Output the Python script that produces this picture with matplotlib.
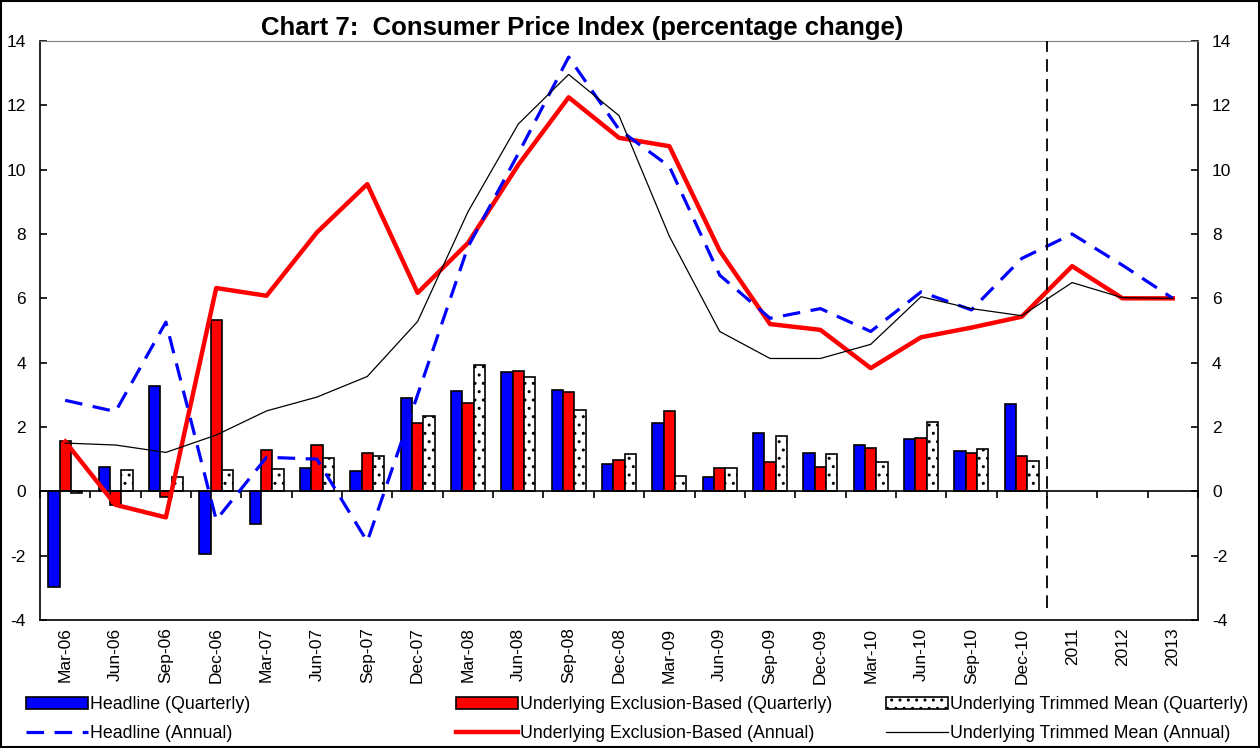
import numpy as np
import matplotlib
matplotlib.use("Agg")
import matplotlib.pyplot as plt
import matplotlib.transforms as transforms
from matplotlib.patches import Rectangle

plt.rcParams['font.family'] = ['Liberation Sans', 'DejaVu Sans']
plt.rcParams['axes.unicode_minus'] = False
plt.rcParams['hatch.linewidth'] = 1.0

categories = ['Mar-06', 'Jun-06', 'Sep-06', 'Dec-06', 'Mar-07', 'Jun-07', 'Sep-07', 'Dec-07',
              'Mar-08', 'Jun-08', 'Sep-08', 'Dec-08', 'Mar-09', 'Jun-09', 'Sep-09', 'Dec-09',
              'Mar-10', 'Jun-10', 'Sep-10', 'Dec-10', '2011', '2012', '2013']

# quarterly bars (only up to Dec-10)
headline_q = [-2.97, 0.77, 3.29, -1.94, -1.01, 0.71, 0.62, 2.90, 3.11, 3.70,
              3.16, 0.86, 2.11, 0.45, 1.82, 1.18, 1.43, 1.63, 1.26, 2.73]
exclusion_q = [1.55, -0.42, -0.18, 5.34, 1.27, 1.43, 1.19, 2.11, 2.76, 3.74,
               3.10, 0.96, 2.50, 0.72, 0.92, 0.77, 1.36, 1.66, 1.20, 1.10]
trimmed_q = [-0.05, 0.65, 0.46, 0.65, 0.69, 1.05, 1.10, 2.33, 3.94, 3.56,
             2.54, 1.15, 0.47, 0.73, 1.71, 1.15, 0.91, 2.17, 1.32, 0.94]

# annual lines
headline_a = [2.83, 2.48, 5.26, -0.89, 1.06, 1.00, -1.56, 3.0, 7.6, 10.5, 13.5, 11.25,
              10.1, 6.72, 5.38, 5.68, 4.97, 6.2, 5.64, 7.24, 8.0, 7.03, 6.0]
exclusion_a = [1.55, -0.42, -0.81, 6.32, 6.08, 8.05, 9.55, 6.17, 7.72, 10.15, 12.25, 10.99,
               10.73, 7.48, 5.2, 5.02, 3.83, 4.79, 5.09, 5.43, 7.0, 6.0, 6.0]
trimmed_a = [1.5, 1.44, 1.21, 1.75, 2.5, 2.93, 3.57, 5.28, 8.69, 11.42, 12.96, 11.68,
             7.93, 4.97, 4.13, 4.13, 4.57, 6.05, 5.68, 5.46, 6.49, 6.02, 6.0]

yticks = list(range(-4, 15, 2))

fig = plt.figure(figsize=(12.6, 7.48), dpi=100)
ax = fig.add_axes([40 / 1260, 1 - 620 / 748, 1158 / 1260, 579 / 748])

x = np.arange(len(categories))
xq = np.arange(len(headline_q))
w = 0.225

b1 = ax.bar(xq - w, headline_q, w, color='#0000FF', edgecolor='black', linewidth=1.2, zorder=2)
b2 = ax.bar(xq, exclusion_q, w, color='#FF0000', edgecolor='black', linewidth=1.2, zorder=2)
b3 = ax.bar(xq + w, trimmed_q, w, color='white', edgecolor='black', linewidth=1.2,
            hatch='..', zorder=2)

l2, = ax.plot(x, exclusion_a, color='#FF0000', linewidth=3.2, zorder=3)
l1, = ax.plot(x, headline_a, color='#0000FF', linewidth=2.3, dashes=(5.5, 3.3), zorder=4)
l3, = ax.plot(x, trimmed_a, color='black', linewidth=0.9, zorder=5)

# forecast divider
ax.axvline(19.5, ymin=0.02, ymax=1, color='black', linewidth=1.3, dashes=(7, 4), zorder=6)

ax.set_xlim(-0.5, len(categories) - 0.5)
ax.set_ylim(-4, 14)
ax.set_yticks(yticks)
ax.tick_params(axis='y', which='both', left=True, right=True, labelleft=True, labelright=True,
               direction='in', length=5, width=1.2, labelsize=12.5, pad=10)

# category axis crosses at zero
ax.spines['bottom'].set_position(('data', 0))
ax.spines['bottom'].set_linewidth(1.2)
ax.spines['left'].set_linewidth(1.2)
ax.spines['right'].set_linewidth(1.2)
ax.spines['top'].set_color('#808080')
ax.spines['top'].set_linewidth(0.8)
ax.set_xticks(np.arange(-0.5, len(categories), 1))
ax.set_xticklabels([])
ax.tick_params(axis='x', direction='out', length=5, width=1.2)
ax.plot([0, 1], [0, 0], transform=ax.transAxes, color='black', linewidth=1.2, clip_on=False)

trans = transforms.blended_transform_factory(ax.transData, ax.transAxes)
for i, c in enumerate(categories):
    ax.text(i, -0.013, c, transform=trans, rotation=90, ha='center', va='top', fontsize=12.5)

fig.text(582 / 1260, 1 - 28 / 748, 'Chart 7:  Consumer Price Index (percentage change)',
         ha='center', va='center', fontsize=18.5, fontweight='bold')

# legend, three columns placed by hand
legend_x = [26 / 1260, 456 / 1260, 886 / 1260]
groups = [([b1, l1], ['Headline (Quarterly)', 'Headline (Annual)']),
          ([b2, l2], ['Underlying Exclusion-Based (Quarterly)', 'Underlying Exclusion-Based (Annual)']),
          ([b3, l3], ['Underlying Trimmed Mean (Quarterly)', 'Underlying Trimmed Mean (Annual)'])]
for lx, (hs, ls) in zip(legend_x, groups):
    fig.legend(hs, ls, loc='upper left', bbox_to_anchor=(lx, 1 - 696 / 748), frameon=False,
               fontsize=12.8, handlelength=3.5, handleheight=0.7, handletextpad=0.1,
               labelspacing=0.7, borderpad=0, borderaxespad=0)

fig.patches.append(Rectangle((0.001, 0.001), 0.998, 0.997, transform=fig.transFigure,
                             fill=False, edgecolor='black', linewidth=1.5))

fig.savefig('out.png', dpi=100)
